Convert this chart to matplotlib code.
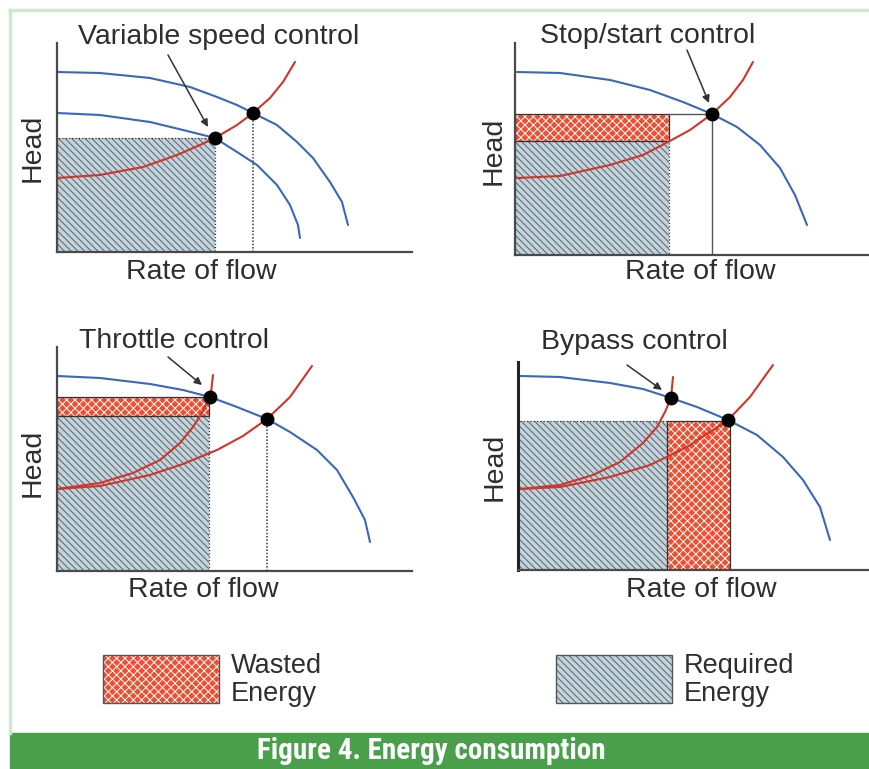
import matplotlib.pyplot as plt
from matplotlib import font_manager
from matplotlib.patches import Rectangle

W, H = 870, 769

plt.rcParams["font.family"] = ["Liberation Sans", "DejaVu Sans"]
plt.rcParams["hatch.linewidth"] = 0.7

BLUE = "#3a66c0"
RED = "#cf3529"
WASTE = "#ee4f33"
NEED = "#c3d3dc"
NEED_HATCH = "#55626b"
INK = "#2e2e2e"
AXIS = "#4a4a4a"

# ---------- data (flow, head in arbitrary units) ----------
# Variable speed control
vsd_pump_full = [(0, 180), (43, 179), (93, 174), (133, 165), (160, 155), (180, 147), (196, 139), (220, 127),
                 (240, 110), (256, 94), (273, 70), (285, 50), (291, 27)]
vsd_pump_slow = [(0, 139), (43, 137), (93, 130), (126, 122), (158, 114), (180, 100), (200, 87), (220, 67),
                 (233, 47), (241, 27), (243, 14)]
vsd_system = [(0, 74), (43, 77), (86, 85), (120, 97), (143, 107), (158, 114), (180, 127), (196, 139),
              (213, 154), (226, 170), (238, 190)]
vsd_duty = [(158, 114), (196, 139)]

# Stop/start control
ss_pump = [(2, 183), (45, 182), (95, 175), (135, 165), (168, 153), (197, 141), (222, 128), (245, 110),
           (265, 87), (280, 60), (288, 40), (292, 30)]
ss_system = [(2, 77), (45, 79), (95, 90), (128, 100), (153, 113), (175, 125), (197, 141), (215, 158),
             (228, 175), (238, 193)]
ss_duty = [(197, 141)]

# Throttle control
thr_pump = [(0, 195), (43, 193), (93, 187), (126, 181), (153, 174), (180, 164), (210, 152), (233, 139),
            (260, 121), (280, 101), (296, 74), (308, 51), (313, 29)]
thr_system = [(0, 82), (43, 85), (93, 96), (126, 107), (160, 121), (186, 135), (210, 152), (233, 174),
              (255, 205)]
thr_throttled = [(0, 82), (43, 88), (76, 98), (103, 111), (123, 128), (136, 144), (145, 158), (151, 171),
                 (154, 178), (156, 196)]
thr_duty = [(153, 174), (210, 152)]

# Bypass control
byp_pump = [(2, 194), (42, 193), (92, 187), (125, 181), (153, 172), (179, 163), (210, 150), (239, 135),
            (265, 113), (285, 90), (302, 63), (312, 30)]
byp_steep = [(2, 81), (42, 85), (75, 95), (102, 108), (125, 127), (139, 143), (147, 158), (153, 172),
             (155, 193)]
byp_system = [(2, 81), (42, 83), (92, 93), (132, 105), (169, 123), (192, 138), (210, 150), (232, 173),
              (255, 205)]
byp_duty = [(153, 172), (210, 150)]

# energy blocks: (flow start, flow end, head low, head high)
vsd_required = [(0, 158, 0, 114)]
ss_required = [(0, 154, 0, 114)]
ss_wasted = [(0, 154, 114, 141)]
thr_required = [(0, 152, 0, 155)]
thr_wasted = [(0, 152, 155, 174)]
byp_required = [(0, 149, 0, 149)]
byp_wasted = [(149, 212, 0, 149)]

TITLES = ["Variable speed control", "Stop/start control", "Throttle control", "Bypass control"]
XLABEL = "Rate of flow"
YLABEL = "Head"
LEGEND = ["Wasted\nEnergy", "Required\nEnergy"]
CAPTION = "Figure 4. Energy consumption"

fig = plt.figure(figsize=(W / 100, H / 100), dpi=100)

# background layer in pixel units for frame, labels and legend
bg = fig.add_axes([0, 0, 1, 1])
bg.set_xlim(0, W)
bg.set_ylim(H, 0)
bg.axis("off")

bg.plot([10, 10], [10, 733], color="#cfe7cf", lw=2.5)
bg.plot([10, W], [10, 10], color="#cfe7cf", lw=2.5)
bg.add_patch(Rectangle((10, 733), W - 10, 36, color="#4a9f4a"))

fonts = font_manager.fontManager.ttflist
names = {f.name for f in fonts}
cap_kw = dict(color="white", fontweight="bold", ha="center", va="center")
if "Roboto Condensed" in names:
    bg.text(431, 751, CAPTION, fontsize=21, family="Roboto Condensed", **cap_kw)
elif "Liberation Sans Narrow" in names:
    bg.text(431, 751, CAPTION, fontsize=20, family="Liberation Sans Narrow", **cap_kw)
elif any(f.name == "DejaVu Sans" and f.stretch == "condensed" for f in fonts):
    bg.text(431, 751, CAPTION, fontsize=18, family="DejaVu Sans", fontstretch="condensed", **cap_kw)
else:
    bg.text(431, 751, CAPTION, fontsize=17.5, **cap_kw)


def block(ax, x0, x1, y0, y1, fill, hatch, hatch_col, edge_ls):
    ax.add_patch(Rectangle((x0, y0), x1 - x0, y1 - y0, facecolor=fill, edgecolor="none", zorder=1))
    ax.add_patch(Rectangle((x0, y0), x1 - x0, y1 - y0, facecolor="none", edgecolor=hatch_col,
                           hatch=hatch, lw=0, zorder=1.1))
    ax.add_patch(Rectangle((x0, y0), x1 - x0, y1 - y0, facecolor="none", edgecolor="#333333",
                           lw=0.9, ls=edge_ls, zorder=1.2))


def required(ax, x0, x1, y0, y1):
    block(ax, x0, x1, y0, y1, NEED, "\\\\\\\\\\", NEED_HATCH, ":")


def wasted(ax, x0, x1, y0, y1):
    block(ax, x0, x1, y0, y1, WASTE, "xxxx", "white", "-")


def curve(ax, pts, color):
    q, h = zip(*pts)
    ax.plot(q, h, color=color, lw=1.5, zorder=3, clip_on=False,
            solid_capstyle="round", solid_joinstyle="round")


def panel(origin, size):
    x0, y0 = origin
    w, h = size
    ax = fig.add_axes([x0 / W, 1 - y0 / H, w / W, h / H])
    ax.set_xlim(0, w)
    ax.set_ylim(0, h)
    ax.patch.set_alpha(0)
    for s in ["top", "right"]:
        ax.spines[s].set_visible(False)
    for s in ["left", "bottom"]:
        ax.spines[s].set_color(AXIS)
        ax.spines[s].set_linewidth(1.6)
        ax.spines[s].set_zorder(5)
    ax.set_xticks([])
    ax.set_yticks([])
    return ax


def arrow(ax, start, end):
    ax.annotate("", xy=end, xytext=start, annotation_clip=False,
                arrowprops=dict(arrowstyle="-|>", color="#333333", lw=1.1, mutation_scale=11,
                                shrinkA=0, shrinkB=0))


def dots(ax, pts):
    q, h = zip(*pts)
    ax.plot(q, h, "o", color="black", ms=9, zorder=6, clip_on=False)


# ---------- panel 1: variable speed ----------
ax1 = panel((57, 252), (355, 209))
for b in vsd_required:
    required(ax1, *b)
curve(ax1, vsd_pump_full, BLUE)
curve(ax1, vsd_pump_slow, BLUE)
curve(ax1, vsd_system, RED)
ax1.plot([vsd_duty[1][0]] * 2, [0, vsd_duty[1][1]], color="#555555", lw=1.2, ls=(0, (1, 1)), zorder=2)
dots(ax1, vsd_duty)
arrow(ax1, (111, 197), (151, 125))

# ---------- panel 2: stop/start ----------
ax2 = panel((515, 255), (355, 212))
for b in ss_required:
    required(ax2, *b)
for b in ss_wasted:
    wasted(ax2, *b)
ax2.plot([ss_wasted[0][1], ss_duty[0][0]], [ss_wasted[0][3]] * 2, color="#555555", lw=1.0, zorder=2)
ax2.plot([ss_duty[0][0]] * 2, [0, ss_duty[0][1]], color="#555555", lw=1.0, zorder=2)
curve(ax2, ss_pump, BLUE)
curve(ax2, ss_system, RED)
dots(ax2, ss_duty)
arrow(ax2, (172, 205), (194, 152))

# ---------- panel 3: throttle ----------
ax3 = panel((57, 571), (355, 224))
for b in thr_required:
    required(ax3, *b)
for b in thr_wasted:
    wasted(ax3, *b)
curve(ax3, thr_pump, BLUE)
curve(ax3, thr_system, RED)
curve(ax3, thr_throttled, RED)
ax3.plot([thr_duty[1][0]] * 2, [0, thr_duty[1][1]], color="#555555", lw=1.2, ls=(0, (1, 1)), zorder=2)
dots(ax3, thr_duty)
arrow(ax3, (111, 214), (145, 186))

# ---------- panel 4: bypass ----------
ax4 = panel((518, 570), (352, 208))
ax4.spines["left"].set_color("#222222")
ax4.spines["left"].set_linewidth(2.2)
for b in byp_required:
    required(ax4, *b)
for b in byp_wasted:
    wasted(ax4, *b)
curve(ax4, byp_pump, BLUE)
curve(ax4, byp_steep, RED)
curve(ax4, byp_system, RED)
dots(ax4, byp_duty)
arrow(ax4, (109, 205), (144, 180))

# ---------- labels ----------
title_pos = [(219, 37), (648, 36), (174, 341), (634, 342)]
xlabel_pos = [(201, 272), (700, 272), (203, 590), (701, 590)]
ylabel_pos = [(33, 148), (494, 151), (33, 463), (495, 467)]
for t, tp, xp, yp in zip(TITLES, title_pos, xlabel_pos, ylabel_pos):
    bg.text(*tp, t, fontsize=20.5, color=INK, ha="center", va="center")
    bg.text(*xp, XLABEL, fontsize=20.5, color=INK, ha="center", va="center")
    bg.text(*yp, YLABEL, fontsize=20.5, color=INK, ha="center", va="center", rotation=90)

# ---------- legend ----------
legend_boxes = [(103, 655), (556, 655)]
legend_fill = [(WASTE, "xxxx", "white"), (NEED, "\\\\\\\\\\", NEED_HATCH)]
for (lx, ly), (fc, hp, hc), lab in zip(legend_boxes, legend_fill, LEGEND):
    bg.add_patch(Rectangle((lx, ly), 116, 48, facecolor=fc, edgecolor="none"))
    bg.add_patch(Rectangle((lx, ly), 116, 48, facecolor="none", edgecolor=hc, hatch=hp, lw=0))
    bg.add_patch(Rectangle((lx, ly), 116, 48, facecolor="none", edgecolor="#555555", lw=1.0))
    bg.text(lx + 128, ly + 25, lab, fontsize=19.5, color=INK, ha="left", va="center", linespacing=1.1)

fig.savefig("out.png", dpi=100)
